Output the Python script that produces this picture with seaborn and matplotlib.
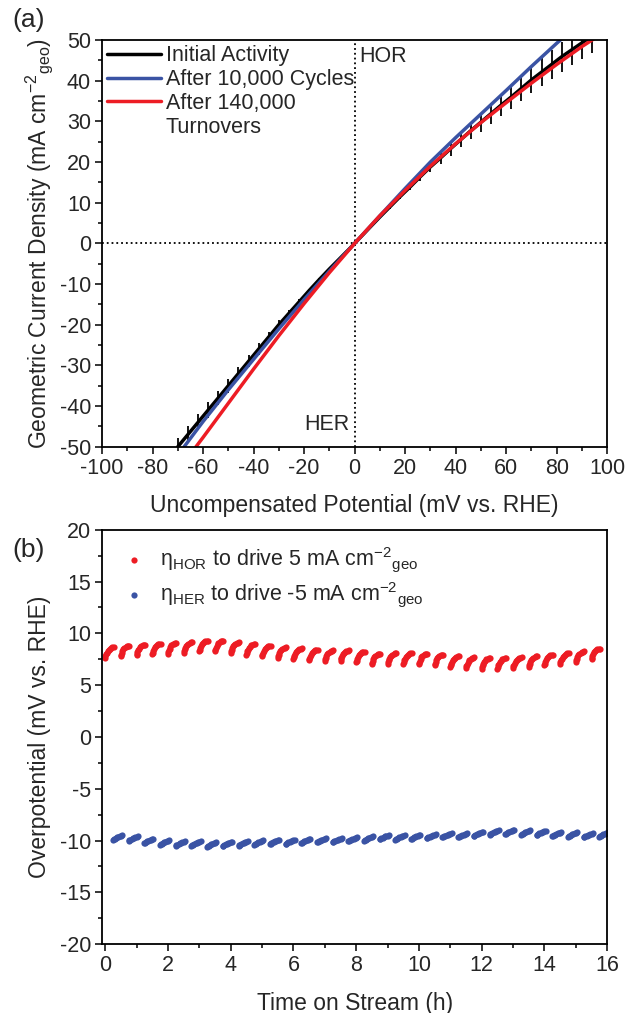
import numpy as np
import pandas as pd
import matplotlib
matplotlib.use("Agg")
import matplotlib.pyplot as plt
from matplotlib.lines import Line2D
from matplotlib.ticker import MultipleLocator
import seaborn as sns

# ---- panel (a): polarisation curves (mV, mA cm-2) ----
black_mv = [-70, -66, -62, -58, -54, -50, -46, -42, -38, -34, -30, -26, -22, -18, -14,
            -10, -6, -2, 2, 6, 10, 14, 18, 22, 26, 30, 34, 38, 42, 46, 50, 54, 58,
            62, 66, 70, 74, 78, 82, 86, 90, 94]
black_j = [-50.0, -47.0, -44.0, -41.0, -38.0, -35.0, -32.0, -29.0, -26.0, -23.0, -20.0,
           -17.2, -14.4, -11.6, -8.9, -6.3, -3.8, -1.3, 1.3, 3.9, 6.5, 9.0, 11.5, 13.9,
           16.4, 18.8, 21.0, 23.3, 25.5, 27.7, 29.8, 31.9, 34.0, 36.0, 38.1, 40.2, 42.1,
           44.0, 45.9, 47.6, 49.3, 51.0]
black_err = [2.2, 2.1, 2.0, 1.9, 1.8, 1.7, 1.6, 1.5, 1.4, 1.2, 1.1, 0.9, 0.7, 0.5, 0.4,
             0.3, 0.2, 0.1, 0.1, 0.2, 0.3, 0.5, 0.7, 0.9, 1.1, 1.3, 1.5, 1.7, 1.9, 2.1,
             2.3, 2.5, 2.7, 2.9, 3.0, 3.2, 3.4, 3.5, 3.7, 3.8, 4.0, 4.1]

blue_mv = [-67.5, -60, -50, -40, -30, -20, -10, 0, 10, 20, 30, 40, 50, 60, 70, 80, 82]
blue_j = [-50.0, -43.8, -36.0, -28.5, -21.0, -13.8, -6.8, 0.0, 6.8, 13.5, 20.0, 26.0,
          31.8, 37.6, 43.5, 49.2, 50.3]

red_mv = [-62.8, -60, -50, -40, -30, -20, -10, 0, 10, 20, 30, 40, 50, 60, 70, 80, 90, 95]
red_j = [-50.0, -47.7, -39.3, -30.9, -22.7, -14.8, -7.2, 0.0, 6.8, 13.0, 19.0, 24.5,
         29.7, 34.6, 39.4, 44.0, 48.4, 50.4]

# ---- panel (b): overpotential vs time, one short arc of points per measurement ----
hor_t0 = [0.0, 0.5, 1.0, 1.5, 2.0, 2.5, 3.0, 3.5, 4.0, 4.5, 5.0, 5.5, 6.0, 6.5, 7.0, 7.5,
          8.0, 8.5, 9.0, 9.5, 10.0, 10.5, 11.0, 11.5, 12.0, 12.5, 13.0, 13.5, 14.0,
          14.5, 15.0, 15.5]
hor_level = [8.23, 8.37, 8.46, 8.56, 8.62, 8.71, 8.85, 8.85, 8.68, 8.52, 8.37, 8.20,
             8.11, 7.98, 7.91, 7.91, 7.80, 7.60, 7.65, 7.65, 7.60, 7.50, 7.34, 7.24,
             7.17, 7.17, 7.24, 7.34, 7.50, 7.65, 7.82, 8.08]
hor_shape_dt = [0.00, 0.01, 0.03, 0.05, 0.08, 0.11, 0.15, 0.19, 0.23, 0.27]
hor_shape_dv = [-0.58, -0.42, -0.25, -0.08, 0.08, 0.21, 0.31, 0.38, 0.43, 0.45]

her_t0 = [0.25, 0.75, 1.25, 1.75, 2.25, 2.75, 3.25, 3.75, 4.25, 4.75, 5.25, 5.75, 6.25,
          6.75, 7.25, 7.75, 8.25, 8.75, 9.25, 9.75, 10.25, 10.75, 11.25, 11.75, 12.25,
          12.75, 13.25, 13.75, 14.25, 14.75, 15.25, 15.75]
her_level = [-9.71, -9.81, -10.04, -10.19, -10.29, -10.29, -10.38, -10.33, -10.29,
             -10.19, -10.13, -10.13, -10.04, -9.97, -9.97, -9.88, -9.81, -9.68, -9.71,
             -9.65, -9.59, -9.49, -9.49, -9.37, -9.23, -9.17, -9.23, -9.27, -9.39,
             -9.42, -9.49, -9.42]
her_shape_dt = [0.00, 0.02, 0.05, 0.09, 0.13, 0.17, 0.21, 0.25, 0.29]
her_shape_dv = [-0.20, -0.16, -0.10, -0.04, 0.02, 0.07, 0.12, 0.16, 0.20]

RED = "#ED1C24"
BLUE = "#3A53A4"


def build_arcs(t0, level, dt, dv):
    ''' Each measurement is drawn as a short run of points. '''
    t = np.add.outer(np.array(t0), np.array(dt)).ravel()
    v = np.add.outer(np.array(level), np.array(dv)).ravel()
    return pd.DataFrame({"t": t, "v": v})


sns.set_style("ticks")
plt.rcParams["font.family"] = ["Liberation Sans", "DejaVu Sans"]
plt.rcParams["mathtext.fontset"] = "custom"
plt.rcParams["mathtext.rm"] = "Liberation Sans"
plt.rcParams["mathtext.it"] = "Liberation Sans:italic"
plt.rcParams["mathtext.sf"] = "Liberation Sans"
plt.rcParams["axes.unicode_minus"] = False

fig = plt.figure(figsize=(6.26, 10.13), dpi=100)
ax1 = fig.add_axes([0.163, 0.559, 0.807, 0.4015])
ax2 = fig.add_axes([0.163, 0.068, 0.807, 0.409])

# ---- (a) ----
ax1.axvline(0, color="black", ls=":", lw=1.3)
ax1.axhline(0, color="black", ls=":", lw=1.3)
ax1.errorbar(black_mv, black_j, yerr=black_err, fmt="none", ecolor="black",
             elinewidth=1.3, capsize=0)
sns.lineplot(x=black_mv, y=black_j, ax=ax1, color="black", lw=2.5, sort=False,
             estimator=None, label="Initial Activity")
sns.lineplot(x=blue_mv, y=blue_j, ax=ax1, color=BLUE, lw=2.5, sort=False,
             estimator=None, label="After 10,000 Cycles")
sns.lineplot(x=red_mv, y=red_j, ax=ax1, color=RED, lw=2.5, sort=False,
             estimator=None, label="After 140,000")
handles, labels = ax1.get_legend_handles_labels()
handles.append(Line2D([], [], color="none"))
labels.append("Turnovers")
ax1.legend(handles, labels, loc="upper left", frameon=False, fontsize=15.5,
           handlelength=2.5, handletextpad=0.2, labelspacing=0.13,
           borderaxespad=0.05, borderpad=0.2)

ax1.text(2, 46, "HOR", fontsize=15.5, ha="left", va="center")
ax1.text(-2, -44.5, "HER", fontsize=15.5, ha="right", va="center")

ax1.set_xlim(-100, 100)
ax1.set_ylim(-50, 50)
ax1.xaxis.set_major_locator(MultipleLocator(20))
ax1.xaxis.set_minor_locator(MultipleLocator(10))
ax1.yaxis.set_major_locator(MultipleLocator(10))
ax1.yaxis.set_minor_locator(MultipleLocator(5))
ax1.set_xlabel("Uncompensated Potential (mV vs. RHE)", fontsize=16.5, labelpad=11)
ax1.set_ylabel("Geometric Current Density (mA cm$^{-2}$$_{\\mathrm{geo}}$)",
               fontsize=16.5, labelpad=3)

# ---- (b) ----
hor = build_arcs(hor_t0, hor_level, hor_shape_dt, hor_shape_dv)
her = build_arcs(her_t0, her_level, her_shape_dt, her_shape_dv)
sns.scatterplot(data=hor, x="t", y="v", ax=ax2, color=RED, s=20, linewidth=0,
                label=r"$\mathrm{\eta}_{\mathrm{HOR}}$ to drive 5 mA cm$^{-2}$$_{\mathrm{geo}}$")
sns.scatterplot(data=her, x="t", y="v", ax=ax2, color=BLUE, s=20, linewidth=0,
                label=r"$\mathrm{\eta}_{\mathrm{HER}}$ to drive -5 mA cm$^{-2}$$_{\mathrm{geo}}$")
ax2.legend(loc="upper left", frameon=False, fontsize=15.5, handletextpad=0.4,
           labelspacing=0.3, borderaxespad=0.3, borderpad=0.4, markerscale=1.0,
           handlelength=1.6)

ax2.set_xlim(-0.1, 16)
ax2.set_ylim(-20, 20)
ax2.xaxis.set_major_locator(MultipleLocator(2))
ax2.xaxis.set_minor_locator(MultipleLocator(1))
ax2.yaxis.set_major_locator(MultipleLocator(5))
ax2.yaxis.set_minor_locator(MultipleLocator(2.5))
ax2.set_xlabel("Time on Stream (h)", fontsize=16.5, labelpad=11)
ax2.set_ylabel("Overpotential (mV vs. RHE)", fontsize=16.5, labelpad=6)

for ax in (ax1, ax2):
    for sp in ax.spines.values():
        sp.set_visible(True)
        sp.set_linewidth(1.3)
        sp.set_color("black")
    ax.tick_params(which="major", direction="out", length=5, width=1.3,
                   labelsize=15.5, top=False, right=False, pad=3)
    ax.tick_params(which="minor", direction="out", length=3, width=1.3,
                   top=False, right=False)

fig.text(0.045, 0.980, "(a)", fontsize=19, ha="center", va="center")
fig.text(0.045, 0.457, "(b)", fontsize=19, ha="center", va="center")

fig.savefig("out.png", dpi=100)
